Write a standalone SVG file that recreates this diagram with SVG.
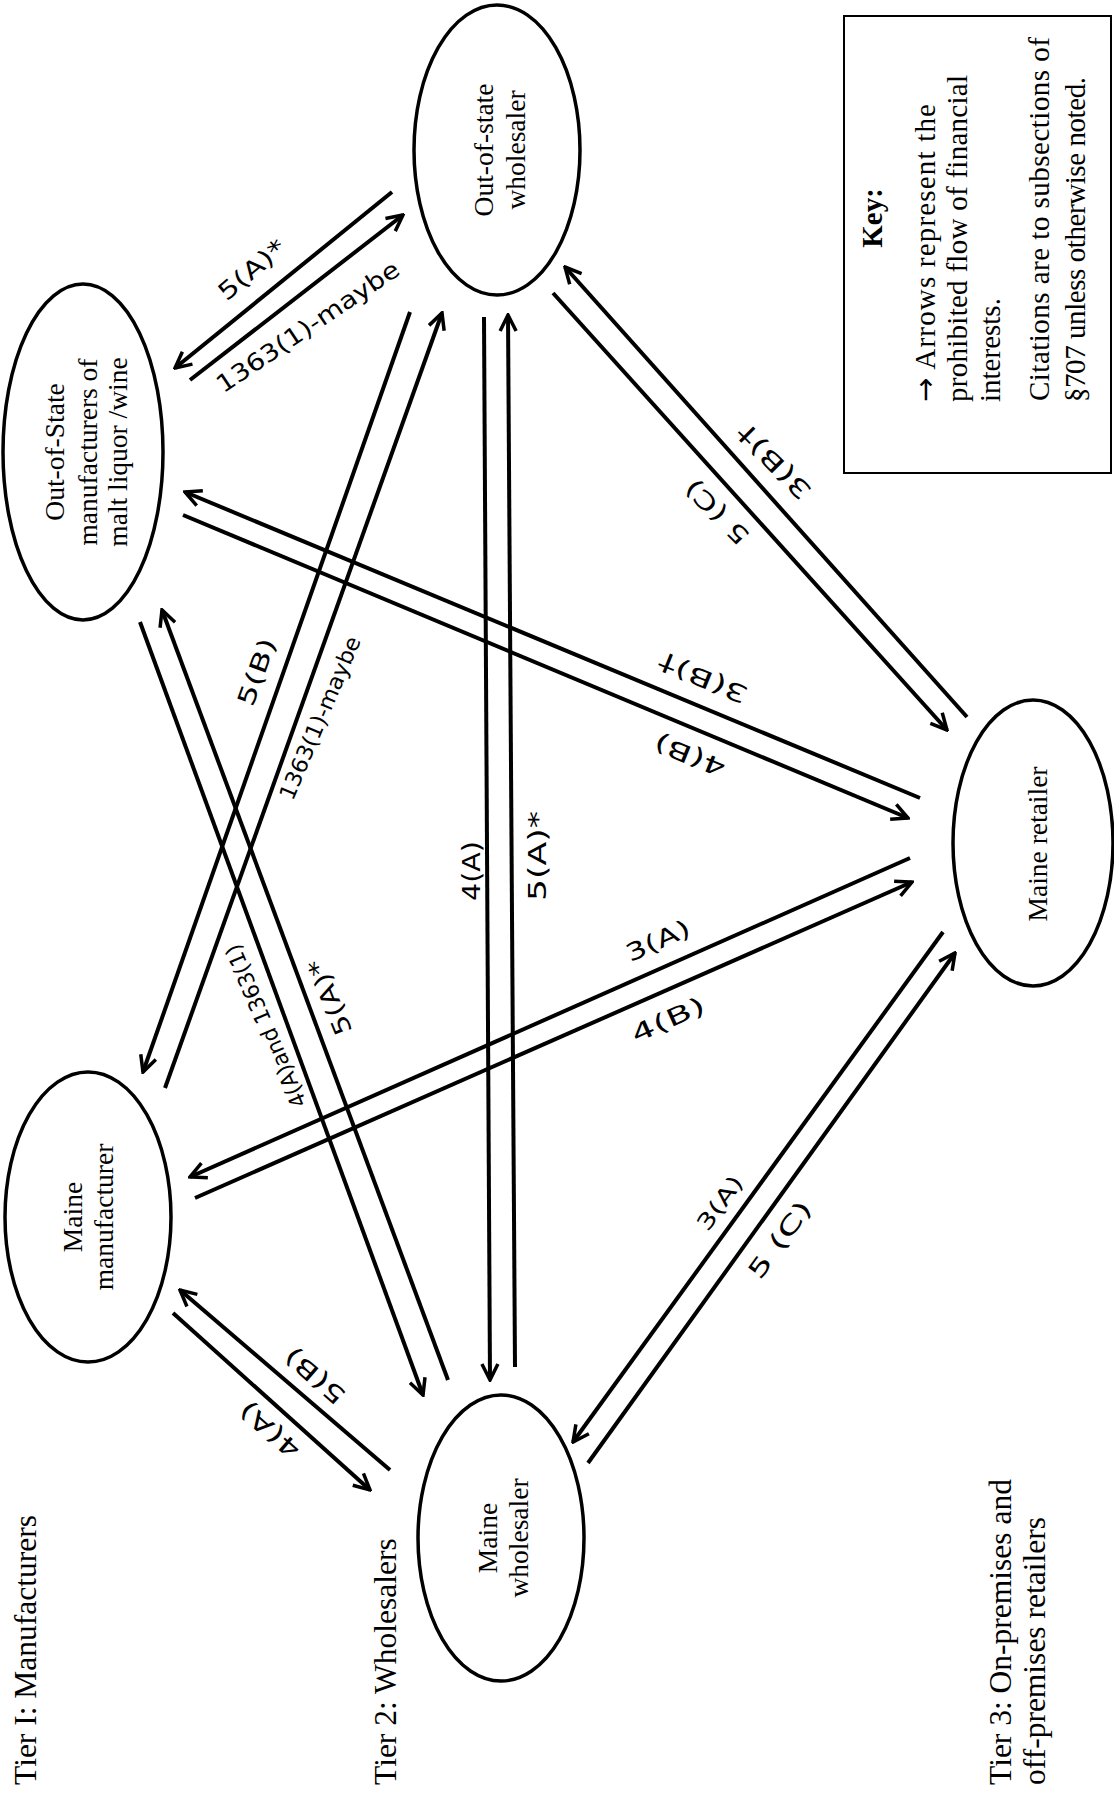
<svg xmlns="http://www.w3.org/2000/svg" width="1114" height="1795" viewBox="0 0 1114 1795">
<style>
.node ellipse{fill:#fff;stroke:#000;stroke-width:3.5}
.nt{font-family:"Liberation Serif","Times New Roman",serif;font-size:27.5px;fill:#000;text-anchor:middle}
.tier{font-family:"Liberation Serif","Times New Roman",serif;font-size:31.5px;fill:#000}
.key{font-family:"Liberation Serif","Times New Roman",serif;font-size:29px;fill:#000}
.hw{font-family:"DejaVu Sans","Liberation Sans",sans-serif;font-size:24px;fill:#000;text-anchor:middle;dominant-baseline:central}
#connectors path{fill:none;stroke:#000;stroke-width:4;marker-end:url(#ah)}
</style>
<defs>
<marker id="ah" viewBox="0 0 20 20" refX="18" refY="10" markerWidth="20" markerHeight="20" markerUnits="userSpaceOnUse" orient="auto">
<path d="M2,2 L18,10 L2,18" fill="none" stroke="#000" stroke-width="3.5" stroke-linejoin="miter"/>
</marker>
</defs>
<rect width="1114" height="1795" fill="#fff"/>

<g id="connectors">
<path d="M392,192 L175,368"/>
<path d="M190,380 L403,215"/>
<path d="M410,312 L143,1072"/>
<path d="M165,1088 L442,313"/>
<path d="M140,622 L423,1395"/>
<path d="M448,1380 L162,610"/>
<path d="M484,317 L490,1380"/>
<path d="M515,1367 L508,315"/>
<path d="M920,798 L185,492"/>
<path d="M183,515 L908,818"/>
<path d="M910,858 L190,1177"/>
<path d="M195,1198 L912,882"/>
<path d="M967,717 L565,267"/>
<path d="M553,293 L947,730"/>
<path d="M943,932 L573,1442"/>
<path d="M588,1463 L955,953"/>
<path d="M390,1470 L180,1290"/>
<path d="M173,1313 L370,1490"/>
</g>

<g id="connector-labels">
<text class="hw" transform="translate(252,270) rotate(-40)" textLength="80" lengthAdjust="spacingAndGlyphs">5(A)*</text>
<text class="hw" transform="translate(308,327) rotate(-34)" textLength="215" lengthAdjust="spacingAndGlyphs">1363(1)-maybe</text>
<text class="hw" transform="translate(257,672) rotate(-70)" textLength="70" lengthAdjust="spacingAndGlyphs">5(B)</text>
<text class="hw" style="font-size:22px" transform="translate(320,718) rotate(-67)" textLength="175" lengthAdjust="spacingAndGlyphs">1363(1)-maybe</text>
<text class="hw" style="font-size:22px" transform="translate(266,1026) rotate(-113)" textLength="175" lengthAdjust="spacingAndGlyphs">4(A)and 1363(1)</text>
<text class="hw" transform="translate(330,997) rotate(-112)" textLength="80" lengthAdjust="spacingAndGlyphs">5(A)*</text>
<text class="hw" transform="translate(472,871) rotate(-90)" textLength="60" lengthAdjust="spacingAndGlyphs">4(A)</text>
<text class="hw" transform="translate(538,856) rotate(-90)" textLength="90" lengthAdjust="spacingAndGlyphs">5(A)*</text>
<text class="hw" transform="translate(774,462) rotate(-135)" textLength="95" lengthAdjust="spacingAndGlyphs">3(B)†</text>
<text class="hw" transform="translate(717,512) rotate(-135)" textLength="80" lengthAdjust="spacingAndGlyphs">5 (C)</text>
<text class="hw" transform="translate(703,678) rotate(-158)" textLength="95" lengthAdjust="spacingAndGlyphs">3(B)†</text>
<text class="hw" transform="translate(690,755) rotate(-158)" textLength="75" lengthAdjust="spacingAndGlyphs">4(B)</text>
<text class="hw" transform="translate(658,941) rotate(-24)" textLength="68" lengthAdjust="spacingAndGlyphs">3(A)</text>
<text class="hw" transform="translate(668,1020) rotate(-24)" textLength="78" lengthAdjust="spacingAndGlyphs">4(B)</text>
<text class="hw" style="font-size:22px" transform="translate(720,1203) rotate(-54)" textLength="62" lengthAdjust="spacingAndGlyphs">3(A)</text>
<text class="hw" transform="translate(780,1240) rotate(-54)" textLength="90" lengthAdjust="spacingAndGlyphs">5 (C)</text>
<text class="hw" transform="translate(315,1376) rotate(-139)" textLength="72" lengthAdjust="spacingAndGlyphs">5(B)</text>
<text class="hw" transform="translate(270,1430) rotate(-139)" textLength="72" lengthAdjust="spacingAndGlyphs">4(A)</text>
</g>

<g id="node-oos-manufacturers" class="node">
<ellipse cx="83" cy="452" rx="80" ry="168"/>
<text class="nt" transform="translate(64,452) rotate(-90)">Out-of-State</text>
<text class="nt" transform="translate(97,452) rotate(-90)">manufacturers of</text>
<text class="nt" transform="translate(127,452) rotate(-90)">malt liquor /wine</text>
</g>

<g id="node-oos-wholesaler" class="node">
<ellipse cx="497" cy="150" rx="83" ry="145"/>
<text class="nt" transform="translate(493,150) rotate(-90)">Out-of-state</text>
<text class="nt" transform="translate(525,150) rotate(-90)">wholesaler</text>
</g>

<g id="node-maine-manufacturer" class="node">
<ellipse cx="88" cy="1217" rx="83" ry="145"/>
<text class="nt" transform="translate(82,1217) rotate(-90)">Maine</text>
<text class="nt" transform="translate(113,1217) rotate(-90)">manufacturer</text>
</g>

<g id="node-maine-wholesaler" class="node">
<ellipse cx="501" cy="1538" rx="83" ry="143"/>
<text class="nt" transform="translate(497,1538) rotate(-90)">Maine</text>
<text class="nt" transform="translate(528,1538) rotate(-90)">wholesaler</text>
</g>

<g id="node-maine-retailer" class="node">
<ellipse cx="1033" cy="843" rx="80" ry="143"/>
<text class="nt" transform="translate(1047,844) rotate(-90)">Maine retailer</text>
</g>

<g id="key">
<rect x="844" y="16" width="267" height="457" fill="#fff" stroke="#000" stroke-width="2"/>
<text class="key" font-weight="bold" text-anchor="middle" transform="translate(882,218) rotate(-90)">Key:</text>
<text class="key" transform="translate(935,402) rotate(-90)" textLength="298" lengthAdjust="spacing"><tspan font-family="DejaVu Sans, sans-serif">→</tspan> Arrows represent the</text>
<text class="key" transform="translate(967,402) rotate(-90)" textLength="327" lengthAdjust="spacing">prohibited flow of financial</text>
<text class="key" transform="translate(1000,402) rotate(-90)">interests.</text>
<text class="key" transform="translate(1049,401) rotate(-90)" textLength="364" lengthAdjust="spacing">Citations are to subsections of</text>
<text class="key" transform="translate(1085,402) rotate(-90)" textLength="325" lengthAdjust="spacing">§707 unless otherwise noted.</text>
</g>

<g id="tier-labels">
<text class="tier" transform="translate(36,1785) rotate(-90)">Tier I: Manufacturers</text>
<text class="tier" transform="translate(396,1785) rotate(-90)">Tier 2: Wholesalers</text>
<text class="tier" transform="translate(1011,1785) rotate(-90)">Tier 3: On-premises and</text>
<text class="tier" transform="translate(1045,1785) rotate(-90)">off-premises retailers</text>
</g>
</svg>
